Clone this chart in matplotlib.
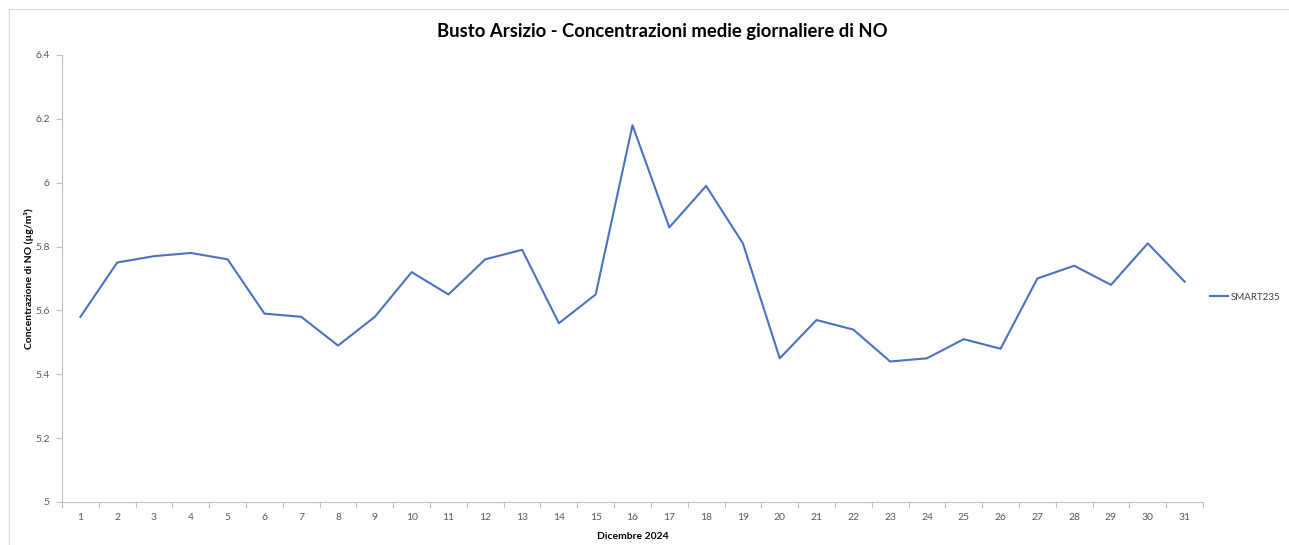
import matplotlib.pyplot as plt
from matplotlib.patches import Rectangle
from matplotlib.ticker import FixedLocator

W, H = 1289, 545

days = list(range(1, 32))
smart235 = [5.58, 5.75, 5.77, 5.78, 5.76, 5.59, 5.58, 5.49, 5.58, 5.72,
            5.65, 5.76, 5.79, 5.56, 5.65, 6.18, 5.86, 5.99, 5.81, 5.45,
            5.57, 5.54, 5.44, 5.45, 5.51, 5.48, 5.70, 5.74, 5.68, 5.81,
            5.69]
series_name = "SMART235"
y_ticks = [5, 5.2, 5.4, 5.6, 5.8, 6, 6.2, 6.4]
y_tick_labels = ["5", "5.2", "5.4", "5.6", "5.8", "6", "6.2", "6.4"]

plt.rcParams['font.family'] = ['Lato', 'DejaVu Sans']

fig = plt.figure(figsize=(W / 100, H / 100), dpi=100)

# chart border (runs off the right and bottom edges)
fig.patches.append(Rectangle((9 / W, -0.1), 1.2, 1 - 9 / H + 0.1,
                             transform=fig.transFigure, fill=False,
                             edgecolor='#d9d9d9', linewidth=0.8))

ax_left, ax_right, ax_top, ax_bottom = 62, 1203, 55, 502
ax = fig.add_axes([ax_left / W, 1 - ax_bottom / H,
                   (ax_right - ax_left) / W, (ax_bottom - ax_top) / H])
line, = ax.plot(days, smart235, color='#4a72c0', linewidth=1.5,
                label=series_name)

ax.set_xlim(0.5, 31.5)
ax.set_ylim(5, 6.4)
ax.set_yticks(y_ticks)
ax.set_yticklabels(y_tick_labels)
ax.set_xticks(days)
ax.xaxis.set_minor_locator(FixedLocator([d + 0.5 for d in range(0, 32)]))

axis_col = '#bfbfbf'
for s in ['top', 'right']:
    ax.spines[s].set_visible(False)
for s in ['left', 'bottom']:
    ax.spines[s].set_color(axis_col)
    ax.spines[s].set_linewidth(0.8)

ax.tick_params(axis='x', which='major', length=0, pad=8,
               labelsize=7.5, labelcolor='#595959')
ax.tick_params(axis='x', which='minor', length=4, color=axis_col, width=0.8)
ax.tick_params(axis='y', which='major', length=4, color=axis_col, width=0.8,
               labelsize=7.5, labelcolor='#595959', pad=5)

ax.set_xlabel("Dicembre 2024", fontsize=7.5, fontweight='bold', labelpad=7)
ax.set_ylabel("Concentrazione di NO (µg/m³)", fontsize=7.5,
              fontweight='bold', va='center')
# y label sits just left of the tick labels
ax.yaxis.set_label_coords((29 - ax_left) / (ax_right - ax_left), 0.5)

fig.text(662 / W, 1 - 31 / H,
         "Busto Arsizio - Concentrazioni medie giornaliere di NO",
         ha='center', va='center', fontsize=13.3, fontweight='bold')

fig.legend(handles=[line], loc='center left',
           bbox_to_anchor=(1210 / W, 1 - 297 / H), frameon=False,
           fontsize=7, handlelength=1.8, handletextpad=0.3,
           borderaxespad=0, borderpad=0, labelcolor='#404040')

fig.savefig("out.png", dpi=100)
